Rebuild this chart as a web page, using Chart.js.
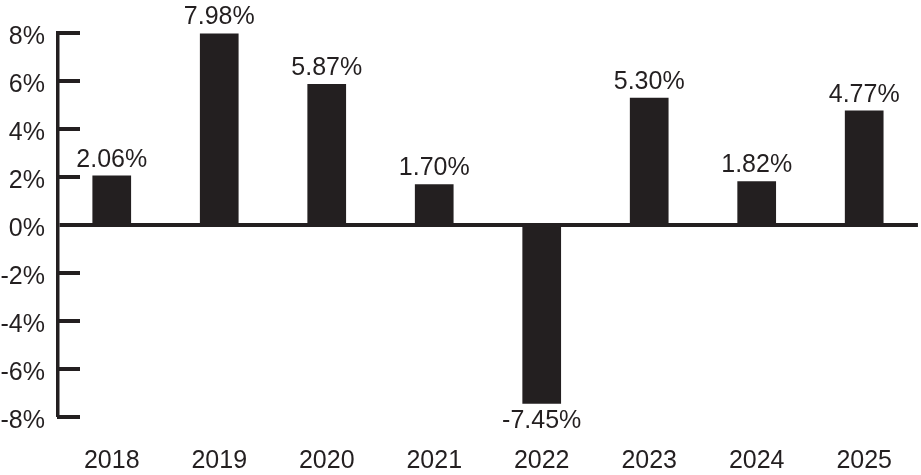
<!DOCTYPE html>
<html>
<head>
<meta charset="utf-8">
<script src="https://cdn.jsdelivr.net/npm/chart.js@4"></script>
<style>
  html, body { margin: 0; padding: 0; background: #ffffff; }
  #wrap { width: 921px; height: 475px; }
</style>
</head>
<body>
<div id="wrap"><canvas id="returnChart" width="921" height="475"></canvas></div>
<script>
// Annual returns
const years = ['2018', '2019', '2020', '2021', '2022', '2023', '2024', '2025'];
const returns = [2.06, 7.98, 5.87, 1.70, -7.45, 5.30, 1.82, 4.77];
const yTicks = [-8, -6, -4, -2, 0, 2, 4, 6, 8];

const ink = '#231f20';
const fontFamily = '"Liberation Sans", Arial, sans-serif';
const fontSize = 25;

// short tick marks pointing into the plot
const innerTicks = {
    id: 'innerTicks',
    afterDraw(chart) {
        const ctx = chart.ctx;
        const y = chart.scales.y;
        const left = chart.chartArea.left;
        ctx.save();
        ctx.strokeStyle = ink;
        ctx.lineWidth = 4;
        yTicks.forEach(function(v) {
            if (v === 0) return;
            const py = Math.round(y.getPixelForValue(v));
            ctx.beginPath();
            ctx.moveTo(left - 1, py);
            ctx.lineTo(left + 22, py);
            ctx.stroke();
        });
        ctx.restore();
    }
};

// value labels over / under each bar
const barLabels = {
    id: 'barLabels',
    afterDatasetsDraw(chart) {
        const ctx = chart.ctx;
        const meta = chart.getDatasetMeta(0);
        ctx.save();
        ctx.fillStyle = ink;
        ctx.font = fontSize + 'px ' + fontFamily;
        ctx.textAlign = 'center';
        meta.data.forEach(function(bar, i) {
            const v = returns[i];
            const txt = v.toFixed(2) + '%';
            if (v >= 0) {
                ctx.textBaseline = 'alphabetic';
                ctx.fillText(txt, bar.x, bar.y - 9);
            } else {
                ctx.textBaseline = 'top';
                ctx.fillText(txt, bar.x, bar.y + 5);
            }
        });
        ctx.restore();
    }
};

new Chart(document.getElementById('returnChart'), {
    type: 'bar',
    data: {
        labels: years,
        datasets: [{
            data: returns,
            backgroundColor: ink,
            borderWidth: 0,
            categoryPercentage: 1,
            barPercentage: 0.36
        }]
    },
    options: {
        responsive: false,
        animation: false,
        devicePixelRatio: 1,
        layout: { padding: { top: 33, left: 0, right: 0, bottom: 0 } },
        plugins: {
            legend: { display: false },
            tooltip: { enabled: false }
        },
        scales: {
            x: {
                grid: { display: false, drawTicks: false },
                border: { display: false },
                ticks: {
                    color: ink,
                    padding: 29,
                    font: { family: fontFamily, size: fontSize }
                },
                afterFit: function(scale) { scale.height = 58; }
            },
            y: {
                min: -8,
                max: 8,
                afterBuildTicks: function(scale) {
                    scale.ticks = yTicks.map(function(v) { return { value: v }; });
                },
                grid: {
                    drawTicks: false,
                    color: function(c) { return c.tick && c.tick.value === 0 ? ink : 'rgba(0,0,0,0)'; },
                    lineWidth: function(c) { return c.tick && c.tick.value === 0 ? 4 : 0; }
                },
                border: { display: true, color: ink, width: 3.5 },
                ticks: {
                    color: ink,
                    padding: 13,
                    labelOffset: 4,
                    font: { family: fontFamily, size: fontSize },
                    callback: function(v) { return v + '%'; }
                },
                afterFit: function(scale) { scale.width = 58; }
            }
        }
    },
    plugins: [innerTicks, barLabels]
});
</script>
</body>
</html>
